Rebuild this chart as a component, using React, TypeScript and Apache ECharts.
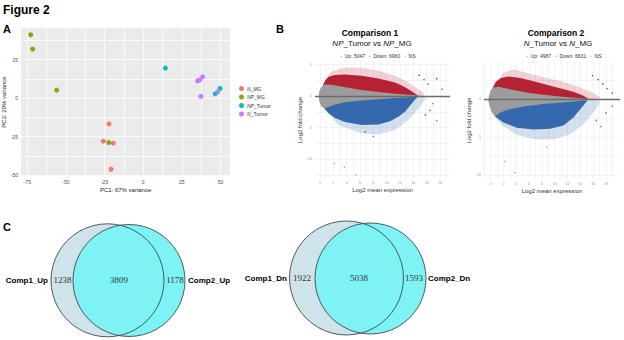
import { useEffect, useRef } from "react";
import * as echarts from "echarts";

// ---------- Panel A : PCA ----------
const pcaGroups = ["N_MG", "NP_MG", "NP_Tumor", "N_Tumor"];
const pcaColors = ["#F8766D", "#7CAE00", "#00BFC4", "#C77CFF"];
const pc1NMG = [-22.1, -25.8, -19.3, -20.8];
const pc2NMG = [-16.7, -27.9, -29.2, -46.1];
const pc1NPMG = [-72.8, -71.5, -56.0, -22.3];
const pc2NPMG = [41.1, 31.8, 5.2, -28.8];
const pc1NPTumor = [14.4, 46.6, 49.8];
const pc2NPTumor = [19.5, 2.8, 6.3];
const pc1NTumor = [35.2, 36.5, 38.5, 37.4, 48.3];
const pc2NTumor = [11.2, 11.7, 13.8, 1.1, 4.1];
const pcaXTicks = [-75, -50, -25, 0, 25, 50];
const pcaYTicks = [-50, -25, 0, 25];

// ---------- Panel B : MA plots (cloud envelopes) ----------
const maTitles = ["Comparison 1", "Comparison 2"];
const maSubtitles = ["{i|NP}_Tumor vs {i|NP}_MG", "{i|N}_Tumor vs {i|N}_MG"];
const maUp = [5047, 4987];
const maDown = [6960, 6631];
const maXTicks = [0, 2, 4, 6, 8, 10, 12, 14, 16, 18];
const ma1YTicks = [-10, -5, 0, 5];
const ma2YTicks = [-10, -5, 0];

const ma1NS = [[-0.2, 0], [-0.1, 0.8], [0.2, 1.45], [0.7, 1.8], [1.25, 1.85], [2.25, 1.7], [3.75, 1.4], [6.25, 0.95], [8.75, 0.64], [11.25, 0.38], [13.25, 0.22], [14.25, 0.12], [15.2, 0.05], [15.2, -0.05], [14.25, -0.12], [13.25, -0.22], [11.25, -0.33], [8.75, -0.5], [6.25, -0.72], [3.75, -1.0], [2.25, -1.35], [1.25, -1.75], [0.7, -1.95], [0.2, -1.65], [-0.1, -0.85]];
const ma1UpDense = [[0.45, 1.75], [0.8, 2.5], [1.3, 3.05], [2.2, 3.35], [3.75, 3.4], [6.25, 3.2], [8.75, 2.8], [11.25, 2.15], [12.5, 1.55], [13.5, 0.9], [14.3, 0.35], [14.7, 0.1]];
const ma1UpSparse = [[0.7, 2.4], [1.6, 3.8], [3.5, 4.5], [6.25, 4.5], [8.75, 4.0], [11.25, 3.2], [13.0, 2.3], [14.6, 1.2], [15.6, 0.4]];
const ma1DownDense = [[0.6, -1.95], [1.25, -2.7], [2.25, -3.5], [3.75, -4.1], [6.25, -4.6], [8.75, -4.5], [10.5, -4.0], [11.75, -3.3], [12.75, -2.5], [13.6, -1.4], [14.3, -0.5], [14.7, -0.1]];
const ma1DownSparse = [[1.0, -2.5], [2.75, -4.6], [6.25, -5.9], [8.75, -6.1], [11.25, -5.4], [13.25, -3.8], [14.8, -2.0], [15.8, -0.5]];
const ma1UpPts = [[17.5, 2.75], [16.2, 1.9], [15.6, 2.6], [18.3, 1.1], [14.9, 3.3]];
const ma1DownPts = [[6.75, -5.7], [8.0, -6.4], [16.5, -2.3], [17.5, -3.9], [15.8, -3.0], [16.9, -1.2]];
const ma1NSPts = [[2.15, -10.7], [3.65, -11.3], [5.4, -12.5]];

const ma2NS = [[-0.4, 0], [-0.25, 0.5], [0.0, 1.2], [0.45, 1.55], [1.2, 1.65], [3.0, 1.3], [5.6, 0.9], [8.2, 0.6], [10.8, 0.35], [13.4, 0.17], [15.0, 0.05], [15.0, -0.12], [13.4, -0.27], [10.8, -0.45], [8.2, -0.62], [5.6, -0.9], [3.0, -1.3], [1.45, -1.75], [0.67, -2.25], [0.15, -1.7], [-0.25, -0.7]];
const ma2UpDense = [[0.3, 1.5], [0.8, 2.3], [1.6, 2.8], [2.8, 3.0], [4.6, 2.8], [6.7, 2.35], [8.75, 1.9], [10.8, 1.45], [12.9, 1.0], [14.4, 0.5], [15.2, 0.1]];
const ma2UpSparse = [[0.67, 1.9], [1.97, 3.5], [3.54, 3.9], [5.62, 3.5], [8.23, 2.9], [10.83, 2.4], [13.44, 1.7], [15.6, 1.0], [17.0, 0.35]];
const ma2DownDense = [[0.6, -2.25], [1.97, -3.05], [4.06, -3.75], [6.66, -4.0], [9.27, -3.9], [11.35, -3.45], [12.91, -2.4], [14.22, -1.1], [15.0, -0.25]];
const ma2DownSparse = [[0.93, -2.5], [1.6, -3.3], [4.06, -4.7], [7.18, -5.3], [9.79, -5.3], [12.39, -4.6], [14.48, -3.3], [16.0, -1.8], [17.0, -0.6]];
const ma2UpPts = [[17.5, 2.0], [19.0, 0.8], [16.8, 2.6], [18.2, 1.4], [15.9, 3.1]];
const ma2DownPts = [[16.5, -2.8], [18.0, -1.8], [17.2, -3.6], [19.0, -0.9]];
const ma2NSPts = [[2.23, -8.2], [3.8, -9.7], [8.75, -6.3]];

// ---------- Panel C : Venn ----------
const vennLeftNames = ["Comp1_Up", "Comp1_Dn"];
const vennRightNames = ["Comp2_Up", "Comp2_Dn"];
const vennLeftOnly = [1238, 1922];
const vennBoth = [3809, 5038];
const vennRightOnly = [1178, 1593];

const RED = "#b2182b";
const BLUE = "#2c62aa";
const GRAY = "#9c9c9c";
const SANS = "Liberation Sans, Arial, sans-serif";
const SERIF = "Liberation Serif, Times New Roman, serif";

function withMinor(majors: number[], step: number, lo: number, hi: number) {
  const out: number[] = [];
  for (const m of majors) {
    out.push(m);
    if (m + step / 2 <= hi) out.push(m + step / 2);
    if (m - step / 2 >= lo && !majors.includes(m - step)) out.push(m - step / 2);
  }
  return Array.from(new Set(out)).sort((a, b) => a - b);
}

function closeToZero(env: number[][]) {
  return [...env, [env[env.length - 1][0], 0], [env[0][0], 0]];
}

function poly(ai: number, pts: number[][], color: string, opacity: number) {
  return {
    type: "custom",
    xAxisIndex: ai,
    yAxisIndex: ai,
    silent: true,
    clip: true,
    data: pts,
    encode: { x: 0, y: 1 },
    renderItem: (params: any, api: any) => {
      if (params.dataIndex !== 0) return null;
      return {
        type: "polygon",
        shape: { points: pts.map((p) => api.coord(p)) },
        style: { fill: color, opacity },
      };
    },
  };
}

function dots(ai: number, pts: number[][], color: string, withLine: boolean) {
  const s: any = {
    type: "scatter",
    xAxisIndex: ai,
    yAxisIndex: ai,
    silent: true,
    symbolSize: 1.6,
    itemStyle: { color },
    data: pts,
    z: 4,
  };
  if (withLine) {
    s.markLine = {
      silent: true,
      symbol: "none",
      label: { show: false },
      lineStyle: { color: "#6b6b6b", width: 1.4, type: "solid" },
      data: [{ yAxis: 0 }],
    };
  }
  return s;
}

function maAxes(ai: number, xmin: number, xmax: number, ymin: number, ymax: number, yTicks: number[]) {
  const gridLine = { show: true, lineStyle: { color: "#ebebeb", width: 0.6 } };
  const xa = {
    type: "value",
    gridIndex: ai,
    min: xmin,
    max: xmax,
    axisLine: { show: false },
    axisTick: { show: false, customValues: withMinor(maXTicks, 2, xmin, xmax) },
    axisLabel: { customValues: maXTicks, fontSize: 3.5, color: "#9a9a9a", margin: 3, fontFamily: SANS },
    splitLine: gridLine,
    name: "Log2 mean expression",
    nameLocation: "middle",
    nameGap: 9,
    nameTextStyle: { fontSize: 6, color: "#333", fontFamily: SANS },
  };
  const ya = {
    type: "value",
    gridIndex: ai,
    min: ymin,
    max: ymax,
    axisLine: { show: false },
    axisTick: { show: false, customValues: withMinor(yTicks, 5, ymin, ymax) },
    axisLabel: { customValues: yTicks, fontSize: 3.5, color: "#9a9a9a", margin: 3, fontFamily: SANS },
    splitLine: gridLine,
    name: "Log2 fold change",
    nameLocation: "middle",
    nameGap: 8,
    nameTextStyle: { fontSize: 6, color: "#333", fontFamily: SANS },
  };
  return { xa, ya };
}

export default function App() {
  const ref = useRef<HTMLDivElement>(null);
  useEffect(() => {
    if (!ref.current) return;
    const chart = echarts.init(ref.current, undefined, { renderer: "svg" });

    const pcaX = [pc1NMG, pc1NPMG, pc1NPTumor, pc1NTumor];
    const pcaY = [pc2NMG, pc2NPMG, pc2NPTumor, pc2NTumor];
    const pcaSeries = pcaGroups.map((g, i) => ({
      type: "scatter",
      name: g,
      xAxisIndex: 0,
      yAxisIndex: 0,
      symbolSize: 5,
      itemStyle: { color: pcaColors[i], opacity: 1 },
      data: pcaX[i].map((x, k) => [x, pcaY[i][k]]),
    }));

    const pcaXMin = -79, pcaXMax = 56.2, pcaYMin = -50.5, pcaYMax = 45.5;
    const whiteLine = { show: true, lineStyle: { color: "#ffffff", width: 0.8 } };

    const a1 = maAxes(1, -0.75, 19.5, -13, 5.4, ma1YTicks);
    const a2 = maAxes(2, -1.05, 20.2, -10.5, 4.9, ma2YTicks);

    const maSeries: any[] = [];
    const addMA = (ai: number, ns: number[][], upD: number[][], upS: number[][], dnD: number[][], dnS: number[][], upP: number[][], dnP: number[][], nsP: number[][]) => {
      maSeries.push(poly(ai, closeToZero(upS), RED, 0.2));
      maSeries.push(poly(ai, closeToZero(dnS), BLUE, 0.2));
      maSeries.push(poly(ai, closeToZero(upD), RED, 0.95));
      maSeries.push(poly(ai, closeToZero(dnD), BLUE, 0.95));
      maSeries.push(poly(ai, ns, GRAY, 1));
      maSeries.push(dots(ai, upP, RED, false));
      maSeries.push(dots(ai, dnP, BLUE, false));
      maSeries.push(dots(ai, nsP, GRAY, true));
    };
    addMA(1, ma1NS, ma1UpDense, ma1UpSparse, ma1DownDense, ma1DownSparse, ma1UpPts, ma1DownPts, ma1NSPts);
    addMA(2, ma2NS, ma2UpDense, ma2UpSparse, ma2DownDense, ma2DownSparse, ma2UpPts, ma2DownPts, ma2NSPts);

    const txt = (x: number, y: number, text: string, size: number, extra: any = {}) => ({
      type: "text",
      x,
      y,
      silent: true,
      style: {
        text,
        fontSize: size,
        fontFamily: SANS,
        fill: "#000",
        align: "left",
        verticalAlign: "middle",
        ...extra,
      },
    });

    const maCenters = [370, 556];
    const maGraphics: any[] = [];
    maCenters.forEach((cx, i) => {
      maGraphics.push(txt(cx, 33, maTitles[i], 8.5, { fontWeight: "bold", align: "center" }));
      maGraphics.push(
        txt(cx + 2, 43, maSubtitles[i], 8, {
          align: "center",
          fill: "#111",
          rich: { i: { fontStyle: "italic", fontSize: 8, fontFamily: SANS, fill: "#111" } },
        })
      );
      maGraphics.push(
        txt(cx + 8, 56, `{r|●}  Up: ${maUp[i]}   {b|●}  Down: ${maDown[i]}   {g|●}  NS`, 5, {
          align: "center",
          fill: "#333",
          rich: {
            r: { fontSize: 2.5, fill: "#c77", fontFamily: SANS },
            b: { fontSize: 2.5, fill: "#78a", fontFamily: SANS },
            g: { fontSize: 2.5, fill: "#aaa", fontFamily: SANS },
          },
        })
      );
    });

    const venns = [
      { l: [107.5, 280.3, 56.5], r: [129, 280.5, 56], ln: 48, lo: 62.5, bo: 119, ro: 175, rn: 188 },
      { l: [346.5, 278, 57], r: [370.5, 278.5, 55.5], ln: 287, lo: 302, bo: 359, ro: 414, rn: 428 },
    ];
    const vennGraphics: any[] = [];
    venns.forEach((v, i) => {
      vennGraphics.push({ type: "circle", silent: true, shape: { cx: v.l[0], cy: v.l[1], r: v.l[2] }, style: { fill: "#cfe3ea", stroke: "none" } });
      vennGraphics.push({ type: "circle", silent: true, shape: { cx: v.r[0], cy: v.r[1], r: v.r[2] }, style: { fill: "#7ef3f6", stroke: "none" } });
      vennGraphics.push({ type: "circle", silent: true, shape: { cx: v.l[0], cy: v.l[1], r: v.l[2] }, style: { fill: "none", stroke: "#3d4a4f", lineWidth: 0.9 } });
      vennGraphics.push({ type: "circle", silent: true, shape: { cx: v.r[0], cy: v.r[1], r: v.r[2] }, style: { fill: "none", stroke: "#3d4a4f", lineWidth: 0.9 } });
      const cy = (v.l[1] + v.r[1]) / 2;
      vennGraphics.push(txt(v.ln, cy, vennLeftNames[i], 8, { fontWeight: "bold", align: "right" }));
      vennGraphics.push(txt(v.rn, cy, vennRightNames[i], 8, { fontWeight: "bold", align: "left" }));
      vennGraphics.push(txt(v.lo, cy, String(vennLeftOnly[i]), 9, { fontFamily: SERIF, align: "center", fill: "#333" }));
      vennGraphics.push(txt(v.bo, cy, String(vennBoth[i]), 9, { fontFamily: SERIF, align: "center", fill: "#333" }));
      vennGraphics.push(txt(v.ro, cy, String(vennRightOnly[i]), 9, { fontFamily: SERIF, align: "center", fill: "#333" }));
    });

    const option: any = {
      animation: false,
      backgroundColor: "#ffffff",
      legend: {
        data: pcaGroups,
        orient: "vertical",
        left: 234,
        top: 81,
        itemWidth: 5,
        itemHeight: 5,
        itemGap: 3.5,
        icon: "circle",
        selectedMode: false,
        textStyle: {
          fontSize: 5,
          color: "#333",
          fontFamily: SANS,
          padding: [0, 0, 0, -2],
          rich: { i: { fontStyle: "italic", fontSize: 5, color: "#333", fontFamily: SANS } },
        },
        formatter: (name: string) => name.replace(/^(NP|N)_/, "{i|$1}_"),
      },
      grid: [
        { left: 20, top: 28, width: 210, height: 148, show: true, backgroundColor: "#ebebeb", borderWidth: 0 },
        { left: 315, top: 62, width: 135, height: 116, show: false },
        { left: 484, top: 62, width: 136, height: 117, show: false },
      ],
      xAxis: [
        {
          type: "value",
          gridIndex: 0,
          min: pcaXMin,
          max: pcaXMax,
          axisLine: { show: false },
          axisTick: { show: false, customValues: withMinor(pcaXTicks, 25, pcaXMin, pcaXMax) },
          axisLabel: { customValues: pcaXTicks, fontSize: 5, color: "#4d4d4d", margin: 3, fontFamily: SANS },
          splitLine: whiteLine,
          name: "PC1: 67% variance",
          nameLocation: "middle",
          nameGap: 11,
          nameTextStyle: { fontSize: 6, color: "#222", fontFamily: SANS },
        },
        a1.xa,
        a2.xa,
      ],
      yAxis: [
        {
          type: "value",
          gridIndex: 0,
          min: pcaYMin,
          max: pcaYMax,
          axisLine: { show: false },
          axisTick: { show: false, customValues: withMinor(pcaYTicks, 25, pcaYMin, pcaYMax) },
          axisLabel: { customValues: pcaYTicks, fontSize: 5, color: "#4d4d4d", margin: 3, fontFamily: SANS },
          splitLine: whiteLine,
          name: "PC2: 20% variance",
          nameLocation: "middle",
          nameGap: 11,
          nameTextStyle: { fontSize: 6, color: "#222", fontFamily: SANS },
        },
        a1.ya,
        a2.ya,
      ],
      series: [...pcaSeries, ...maSeries],
      graphic: [
        txt(3, 10, "Figure 2", 12, { fontWeight: "bold" }),
        txt(3, 29, "A", 11, { fontWeight: "bold" }),
        txt(276, 29, "B", 11, { fontWeight: "bold" }),
        txt(3, 227, "C", 11, { fontWeight: "bold" }),
        ...maGraphics,
        ...vennGraphics,
      ],
    };
    chart.setOption(option);
    return () => chart.dispose();
  }, []);
  return (
    <div
      ref={ref}
      style={{ position: "absolute", left: 0, top: 0, width: 624, height: 340, background: "#fff" }}
    />
  );
}
